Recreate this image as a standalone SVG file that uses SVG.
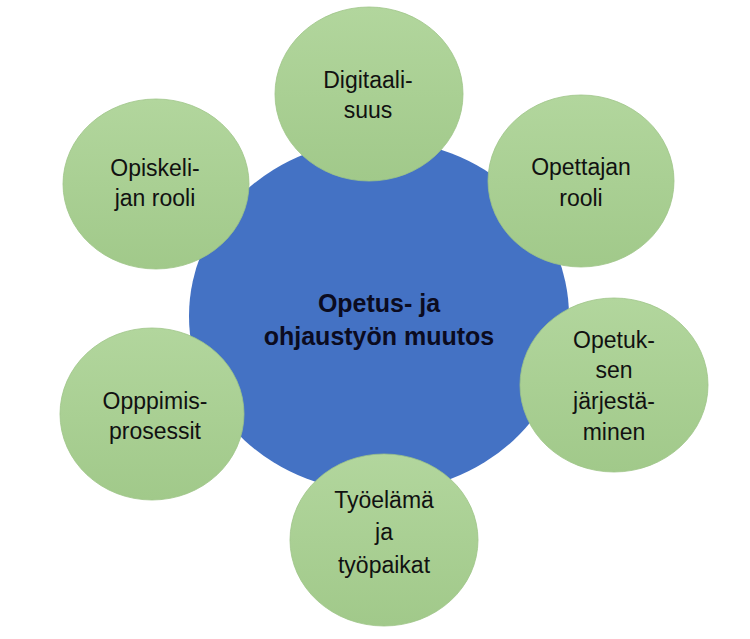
<svg xmlns="http://www.w3.org/2000/svg" width="750" height="639" viewBox="0 0 750 639">
<defs>
<linearGradient id="g" x1="0" y1="0" x2="0" y2="1">
<stop offset="0" stop-color="#b2d69d"/>
<stop offset="1" stop-color="#a1c98a"/>
</linearGradient>
<style>
.c{fill:url(#g);stroke:#9dc486;stroke-width:0.8}
.t{font-family:"Liberation Sans",Arial,sans-serif;font-size:23px;fill:#111;text-anchor:middle}
.m{font-family:"Liberation Sans",Arial,sans-serif;font-size:25px;font-weight:bold;fill:#0b0b20;text-anchor:middle}
</style>
</defs>
<rect width="750" height="639" fill="#fff"/>
<g id="center">
<ellipse cx="379" cy="316" rx="190" ry="176" fill="#4472c4"/>
<text class="m" x="379" y="312">Opetus- ja</text>
<text class="m" x="379" y="345">ohjaustyön muutos</text>
</g>
<g id="connectors"></g>
<g id="digitaalisuus">
<ellipse class="c" cx="369" cy="94" rx="94" ry="87"/>
<text class="t" x="368" y="88">Digitaali-</text>
<text class="t" x="368" y="118">suus</text>
</g>
<g id="opettajan-rooli">
<ellipse class="c" cx="581" cy="181" rx="93" ry="86"/>
<text class="t" x="581" y="175">Opettajan</text>
<text class="t" x="581" y="206">rooli</text>
</g>
<g id="opiskelijan-rooli">
<ellipse class="c" cx="156" cy="184" rx="93" ry="85"/>
<text class="t" x="155" y="176">Opiskeli-</text>
<text class="t" x="155" y="206">jan rooli</text>
</g>
<g id="oppimisprosessit">
<ellipse class="c" cx="152" cy="414" rx="92" ry="86"/>
<text class="t" x="155" y="409">Opppimis-</text>
<text class="t" x="155" y="439">prosessit</text>
</g>
<g id="opetuksen-jarjestaminen">
<ellipse class="c" cx="614" cy="385" rx="94" ry="87"/>
<text class="t" x="614" y="348">Opetuk-</text>
<text class="t" x="614" y="378">sen</text>
<text class="t" x="614" y="409">järjestä-</text>
<text class="t" x="614" y="440">minen</text>
</g>
<g id="tyoelama">
<ellipse class="c" cx="384" cy="540" rx="94" ry="86"/>
<text class="t" x="384" y="508">Työelämä</text>
<text class="t" x="384" y="540">ja</text>
<text class="t" x="384" y="573">työpaikat</text>
</g>
</svg>
